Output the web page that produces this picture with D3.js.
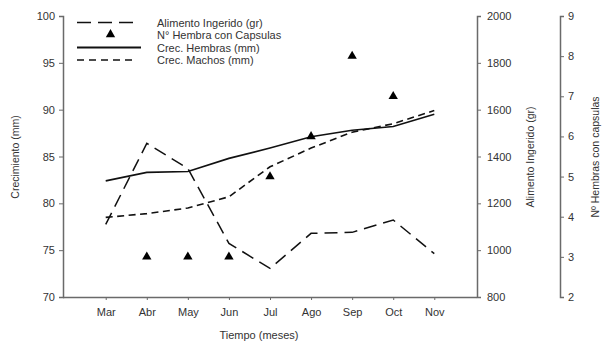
<!DOCTYPE html>
<html><head><meta charset="utf-8">
<script src="https://cdn.jsdelivr.net/npm/d3@7"></script>
<style>
body{margin:0;background:#fff;}
text{font-family:"Liberation Sans",Arial,sans-serif;fill:#333;}
</style></head>
<body><svg id="c" width="606" height="342"></svg>
<script>
const months = ["Mar","Abr","May","Jun","Jul","Ago","Sep","Oct","Nov"];
const crecHembras = [82.4,83.3,83.4,84.8,85.9,87.1,87.8,88.2,89.5];
const crecMachos = [78.5,78.9,79.5,80.7,83.9,85.9,87.6,88.5,89.9];
const alimento = [1110,1456,1349,1029,922,1072,1076,1129,985];
const hembrasCapsMonths = ["Abr","May","Jun","Jul","Ago","Sep","Oct"];
const hembrasCaps = [3,3,3,5,6,8,7];
const leftTicks = [70,75,80,85,90,95,100];
const rightTicks = [800,1000,1200,1400,1600,1800,2000];
const right2Ticks = [2,3,4,5,6,7,8,9];
const legendLabels = ["Alimento Ingerido (gr)","N° Hembra con Capsulas","Crec. Hembras (mm)","Crec. Machos (mm)"];

const svg = d3.select("#c");
const axisCol = "#6a6a6a";
const x0 = 63, x1 = 477, yTop = 16, yBot = 297;
const fmt = d3.format("d");

const x = d3.scalePoint().domain(months).range([x0, x1]).padding(1.04);
const yL = d3.scaleLinear().domain([70,100]).range([yBot, yTop]);
const yR = d3.scaleLinear().domain([800,2000]).range([yBot, yTop]);
const yR2 = d3.scaleLinear().domain([2,9]).range([yBot, yTop]);

function styleAxis(g){
  g.selectAll("path").attr("stroke", axisCol).attr("stroke-width", 1.5);
  g.selectAll("line").attr("stroke", axisCol).attr("stroke-width", 1);
  g.selectAll("text").attr("fill", "#333").style("font-size","11px").attr("font-family",'"Liberation Sans",Arial,sans-serif');
}

// left axis
svg.append("g").attr("transform",`translate(${x0},0)`)
  .call(d3.axisLeft(yL).tickValues(leftTicks).tickFormat(fmt).tickSize(4).tickSizeOuter(4).tickPadding(4))
  .call(styleAxis);
// x axis
svg.append("g").attr("transform",`translate(0,${yBot})`)
  .call(d3.axisBottom(x).tickSize(3).tickSizeOuter(0).tickPadding(8))
  .call(g=>g.select("path").attr("d",`M${x0},0.5H${x1}`))
  .call(styleAxis);
// right axis 1
svg.append("g").attr("transform",`translate(${x1},0)`)
  .call(d3.axisRight(yR).tickValues(rightTicks).tickFormat(fmt).tickSize(4).tickSizeOuter(4).tickPadding(6))
  .call(styleAxis);
// right axis 2
svg.append("g").attr("transform",`translate(560,0)`)
  .call(d3.axisRight(yR2).tickValues(right2Ticks).tickFormat(fmt).tickSize(4).tickSizeOuter(4).tickPadding(4))
  .call(styleAxis);

// axis titles
svg.append("text").attr("transform","translate(19,157) rotate(-90)").attr("text-anchor","middle").style("font-size","10.5px").text("Crecimiento (mm)");
svg.append("text").attr("transform","translate(534,157) rotate(-90)").attr("text-anchor","middle").style("font-size","10.5px").text("Alimento Ingerido (gr)");
svg.append("text").attr("transform","translate(599,157) rotate(-90)").attr("text-anchor","middle").style("font-size","10.5px").text("Nº Hembras con capsulas");
svg.append("text").attr("x",259).attr("y",339).attr("text-anchor","middle").style("font-size","11px").text("Tiempo (meses)");

const lineL = d3.line().x((d,i)=>x(months[i])).y(d=>yL(d));
const lineR = d3.line().x((d,i)=>x(months[i])).y(d=>yR(d));

svg.append("path").attr("d", lineR(alimento)).attr("fill","none").attr("stroke","#111").attr("stroke-width",1.5).attr("stroke-dasharray","13,7");
svg.append("path").attr("d", lineL(crecHembras)).attr("fill","none").attr("stroke","#111").attr("stroke-width",1.6);
svg.append("path").attr("d", lineL(crecMachos)).attr("fill","none").attr("stroke","#111").attr("stroke-width",1.6).attr("stroke-dasharray","7,4.5");

const tri = d3.symbol().type(d3.symbolTriangle).size(38);
svg.append("g").selectAll("path").data(hembrasCaps).join("path")
  .attr("d", tri)
  .attr("transform",(d,i)=>`translate(${x(hembrasCapsMonths[i])},${yR2(d)})`)
  .attr("fill","#000");

// legend
const legY = [22.5, 34.5, 47.5, 60];
const lg = svg.append("g");
lg.append("line").attr("x1",77).attr("x2",135).attr("y1",legY[0]).attr("y2",legY[0]).attr("stroke","#111").attr("stroke-width",1.5).attr("stroke-dasharray","14,7");
lg.append("path").attr("d",tri).attr("transform",`translate(110.5,${legY[1]})`).attr("fill","#000");
lg.append("line").attr("x1",77).attr("x2",141).attr("y1",legY[2]).attr("y2",legY[2]).attr("stroke","#111").attr("stroke-width",1.8);
lg.append("line").attr("x1",77).attr("x2",135).attr("y1",legY[3]).attr("y2",legY[3]).attr("stroke","#111").attr("stroke-width",1.6).attr("stroke-dasharray","7,5");
lg.selectAll("text").data(legendLabels).join("text")
  .attr("x",157).attr("y",(d,i)=>legY[i]+4).style("font-size","11px").text(d=>d);
</script></body></html>
